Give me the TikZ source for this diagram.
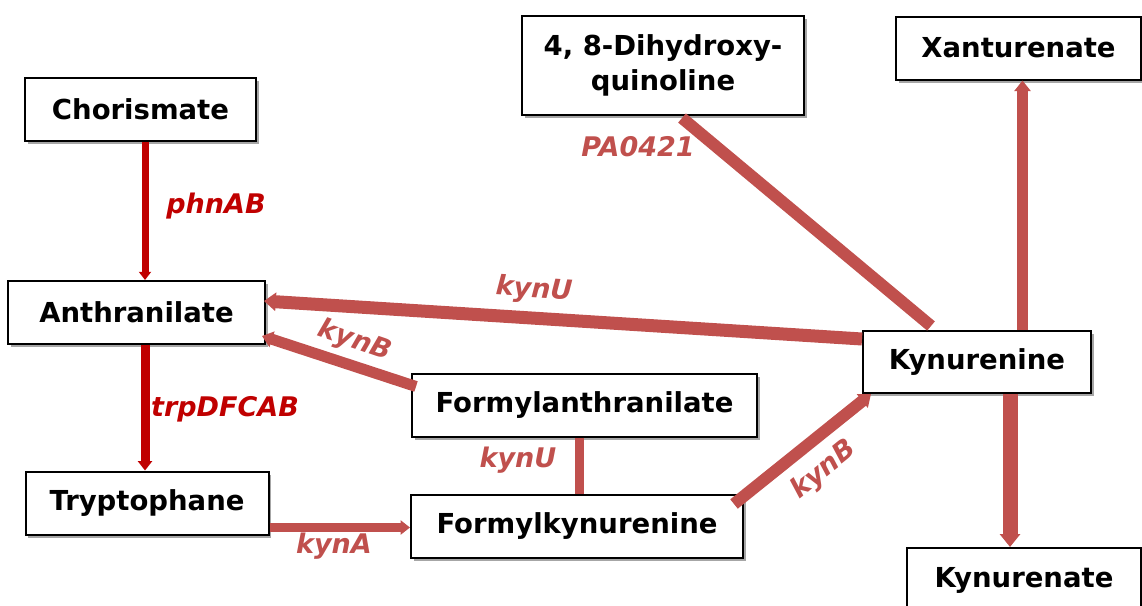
\documentclass[tikz,border=0pt]{standalone}
\usepackage{fontspec}
\setmainfont{DejaVu Sans}
\usetikzlibrary{arrows.meta,shadows,calc}
\definecolor{dred}{HTML}{C00000}
\definecolor{lred}{HTML}{C0504D}
\tikzset{
  box/.style={draw=black, line width=2pt, fill=white, inner sep=0pt,
    general shadow={fill=black!35, shadow xshift=2.5pt, shadow yshift=-3pt},
    font=\fontsize{27.5}{35}\selectfont\bfseries, align=center},
  lbl/.style={inner sep=0pt, font=\fontsize{27}{32}\selectfont\bfseries\itshape},
  dlbl/.style={lbl, text=dred},
  rlbl/.style={lbl, text=lred},
  dline/.style={draw=dred},
  rline/.style={draw=lred},
  headed/.style={-{Triangle[length=4pt 0.6, width=5pt 1]}}
}
\begin{document}
\begin{tikzpicture}[x=1pt,y=-1pt]
\useasboundingbox (0,0) rectangle (1142,605);
\clip (0,0) rectangle (1142,605);
% nodes
\node[box, minimum width=231pt, minimum height=63pt] (chor) at (140.5,109) {Chorismate};
\node[box, minimum width=257pt, minimum height=63pt] (anth) at (136.5,312.5) {Anthranilate};
\node[box, minimum width=243pt, minimum height=63pt] (tryp) at (147,503) {Tryptophane};
\node[box, minimum width=282pt, minimum height=99pt] (dihy) at (663,65.5) {4, 8-Dihydroxy-\\quinoline};
\node[box, minimum width=245pt, minimum height=63pt] (xant) at (1018.5,48) {Xanturenate};
\node[box, minimum width=228pt, minimum height=62pt] (kyn) at (977,362) {Kynurenine};
\node[box, minimum width=345pt, minimum height=63pt] (fant) at (584.5,405) {Formylanthranilate};
\node[box, minimum width=332pt, minimum height=63pt] (fkyn) at (577,526.5) {Formylkynurenine};
\node[box, minimum width=234pt, minimum height=64pt] (kyna) at (1024,580) {Kynurenate};
% connectors
\draw[dline, line width=7pt, headed] ([xshift=4.5pt]chor.south) -- ([xshift=4.5pt]chor.south |- anth.north);
\draw[dline, line width=9pt, headed] ([xshift=8.5pt]anth.south) -- ([xshift=8.5pt]anth.south |- tryp.north);
\draw[rline, line width=9pt, headed] ([yshift=-24.5pt]tryp.east) -- ([yshift=-24.5pt]tryp.east -| fkyn.west);
\draw[rline, line width=9pt] ([xshift=-5.5pt]fant.south) -- ([xshift=-5.5pt]fant.south |- fkyn.north);
\draw[rline, line width=12pt, headed] ([xshift=-10pt,yshift=-10pt]fkyn.north east) -- ([xshift=9pt]kyn.south west);
\draw[rline, line width=11pt, headed] ([xshift=5pt,yshift=-14pt]fant.north west) -- ([xshift=-4pt,yshift=9pt]anth.south east);
\draw[rline, line width=13pt, headed] ([yshift=-9pt]kyn.north west) -- ([xshift=-2pt,yshift=-21pt]anth.north east);
\draw[rline, line width=12pt] ([xshift=69pt,yshift=4pt]kyn.north west) -- ([xshift=19pt,yshift=-2pt]dihy.south);
\draw[rline, line width=11pt, headed] ([xshift=45.5pt]kyn.north) -- ([xshift=45.5pt]kyn.north |- xant.south);
\draw[rline, line width=15pt, headed] ([xshift=33pt]kyn.south) -- ([xshift=33pt]kyn.south |- kyna.north);
% labels
\node[dlbl] (l1) at (216,206) {phnAB};
\node[dlbl] (l2) at (225,409) {trpDFCAB};
\node[rlbl] (l3) at (334,546) {kynA};
\node[rlbl, rotate=-3.6] (l4) at (534,290) {kynU};
\node[rlbl, rotate=-19] (l5) at (355,341) {kynB};
\node[rlbl] (l6) at (518,460) {kynU};
\node[rlbl, rotate=39] (l7) at (824,470) {kynB};
\node[rlbl] (l8) at (638,147) {PA0421};
\end{tikzpicture}
\end{document}
